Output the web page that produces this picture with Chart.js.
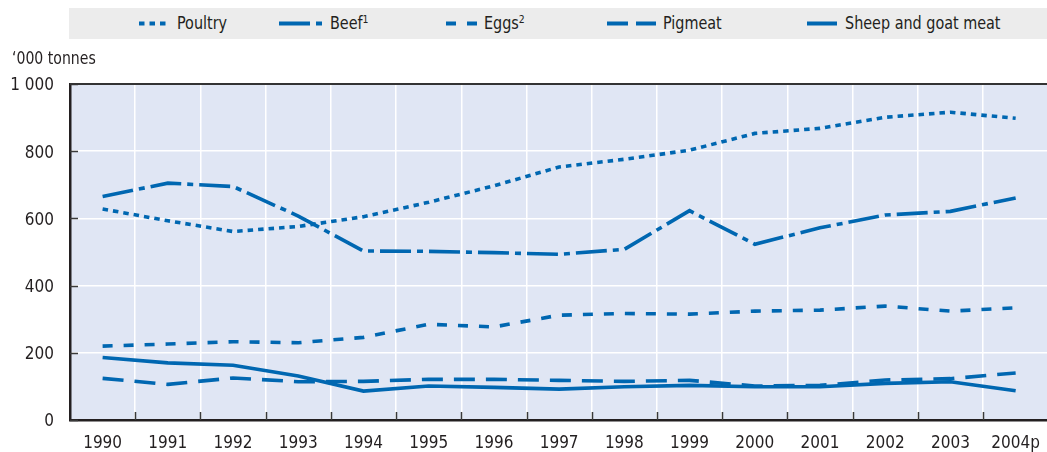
<!DOCTYPE html>
<html>
<head>
<meta charset="utf-8">
<script src="https://cdn.jsdelivr.net/npm/chart.js@4"></script>
<style>
  html, body { margin: 0; padding: 0; overflow: hidden; background: #fff; }
  body { width: 1047px; height: 452px; position: relative;
         font-family: 'Liberation Sans Narrow', 'Arial Narrow', 'DejaVu Sans Condensed', sans-serif; color: #231f20; }
  #wrap { position: absolute; left: 0; top: 0; width: 1053px; height: 452px; }
  #legend { position: absolute; left: 69px; top: 8px; width: 978px; height: 31px; background: #ececec; }
  .item { position: absolute; top: 0; height: 31px; line-height: 31px; font-size: 17px; white-space: nowrap; }
  .item svg { position: absolute; top: 13px; }
  .item span { transform: scaleX(0.94); transform-origin: left center; display: inline-block; }
  .item sup { font-size: 11px; vertical-align: 6px; line-height: 0; }
  #unit { position: absolute; left: 12px; top: 48px; font-size: 17px; transform: scaleX(0.92); transform-origin: left center; }
</style>
</head>
<body>
<div id="wrap"><canvas id="chart" width="1053" height="452"></canvas></div>
<div id="legend"></div>
<div id="unit">‘000 tonnes</div>
<script>
// данные
const years = ['1990', '1991', '1992', '1993', '1994', '1995', '1996', '1997', '1998', '1999', '2000', '2001', '2002', '2003', '2004p'];
const poultry = [628, 593, 561, 576, 605, 648, 697, 753, 776, 803, 853, 868, 901, 916, 898];
const beef = [665, 705, 695, 607, 503, 502, 498, 493, 508, 623, 523, 572, 610, 621, 661];
const eggs = [220, 226, 233, 230, 246, 285, 277, 312, 317, 315, 324, 327, 339, 324, 334];
const pigmeat = [124, 106, 125, 114, 115, 121, 121, 118, 115, 118, 101, 103, 119, 123, 140];
const sheepGoat = [186, 170, 163, 131, 86, 101, 97, 92, 99, 103, 99, 99, 109, 114, 87];
const yTicks = [0, 200, 400, 600, 800, 1000];

const blue = '#0067b1';
const ink = '#231f20';
const fontFamily = "'Liberation Sans Narrow', 'Arial Narrow', 'DejaVu Sans Condensed', sans-serif";

// серии: подпись, данные, штрих линии, штрих в легенде
const series = [
    { label: 'Poultry', sup: '', data: poultry, dash: [5.5, 5], legendDash: '5.5 5', x: 139, w: 27, tx: 177 },
    { label: 'Beef', sup: '1', data: beef, dash: [31, 6, 6, 6], legendDash: '31 6 6 6', x: 279, w: 43, tx: 330 },
    { label: 'Eggs', sup: '2', data: eggs, dash: [10, 11], legendDash: '10 11', x: 446, w: 31, tx: 484 },
    { label: 'Pigmeat', sup: '', data: pigmeat, dash: [21, 11], legendDash: '21 8', x: 607, w: 49, tx: 663 },
    { label: 'Sheep and goat meat', sup: '', data: sheepGoat, dash: [], legendDash: '', x: 807, w: 30, tx: 845 }
];

// легенда в серой полосе
const legend = document.getElementById('legend');
series.forEach(s => {
    const it = document.createElement('div');
    it.className = 'item';
    it.style.left = (s.x - 69) + 'px';
    it.innerHTML =
        '<svg width="' + s.w + '" height="5" style="left:0">' +
        '<line x1="0" y1="2.5" x2="' + s.w + '" y2="2.5" stroke="' + blue + '" stroke-width="4"' +
        (s.legendDash ? ' stroke-dasharray="' + s.legendDash + '"' : '') + '/></svg>' +
        '<span style="position:absolute;left:' + (s.tx - s.x) + 'px">' + s.label +
        (s.sup ? '<sup>' + s.sup + '</sup>' : '') + '</span>';
    legend.appendChild(it);
});

// фон области, рамка сверху и короткие засечки внутрь
const plotDecor = {
    id: 'plotDecor',
    beforeDraw(chart) {
        const { ctx, chartArea: a } = chart;
        ctx.save();
        ctx.fillStyle = '#e0e6f4';
        ctx.fillRect(a.left, a.top, a.right - a.left, a.bottom - a.top);
        ctx.restore();
    },
    afterDatasetsDraw(chart) {
        const { ctx, chartArea: a, scales } = chart;
        ctx.save();
        ctx.strokeStyle = '#3a3a3a';
        ctx.lineWidth = 1.5;
        // засечки на оси Y
        scales.y.ticks.forEach(t => {
            const y = Math.round(scales.y.getPixelForValue(t.value)) + 0.5;
            ctx.beginPath();
            ctx.moveTo(a.left, y);
            ctx.lineTo(a.left + 8, y);
            ctx.stroke();
        });
        // засечки на оси X между годами
        const step = (a.right - a.left) / years.length;
        for (let i = 1; i < years.length; i++) {
            const x = Math.round(a.left + step * i) + 0.5;
            ctx.beginPath();
            ctx.moveTo(x, a.bottom);
            ctx.lineTo(x, a.bottom - 8);
            ctx.stroke();
        }
        // верхняя рамка
        ctx.strokeStyle = '#333';
        ctx.lineWidth = 2;
        ctx.beginPath();
        ctx.moveTo(a.left, a.top);
        ctx.lineTo(a.right, a.top);
        ctx.stroke();
        ctx.restore();
    }
};

new Chart(document.getElementById('chart'), {
    type: 'line',
    data: {
        labels: years,
        datasets: series.map(s => ({
            label: s.label,
            data: s.data,
            borderColor: blue,
            backgroundColor: blue,
            borderWidth: 3.6,
            borderDash: s.dash,
            pointRadius: 0,
            tension: 0,
            fill: false
        }))
    },
    options: {
        responsive: false,
        animation: false,
        layout: { padding: { top: 84, right: 1, left: 0, bottom: 0 } },
        plugins: { legend: { display: false }, tooltip: { enabled: false } },
        scales: {
            x: {
                offset: true,
                grid: { offset: true, color: '#ffffff', lineWidth: 1.5, drawTicks: false },
                border: { color: ink, width: 2.5 },
                ticks: { color: ink, padding: 13, font: { family: fontFamily, size: 17 }, maxRotation: 0, autoSkip: false },
                afterFit(scale) { scale.height = 32; }
            },
            y: {
                min: 0,
                max: 1000,
                afterBuildTicks(scale) { scale.ticks = yTicks.map(v => ({ value: v })); },
                grid: { color: '#ffffff', lineWidth: 1.5, drawTicks: false },
                border: { color: ink, width: 2.5 },
                ticks: {
                    color: ink,
                    padding: 16,
                    labelOffset: 2,
                    font: { family: fontFamily, size: 17 },
                    callback: v => v >= 1000 ? '1 000' : String(v)
                },
                afterFit(scale) { scale.width = 70; }
            }
        }
    },
    plugins: [plotDecor]
});
</script>
</body>
</html>
